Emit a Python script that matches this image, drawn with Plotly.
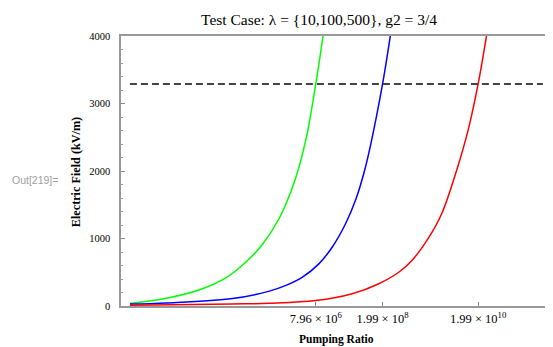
import plotly.graph_objects as go

# ---- data (x: pumping ratio, log axis; y: electric field kV/m)
green_x = [1026, 5970, 29500, 106200, 277300, 605000, 1.368e6, 2.81e6, 4.93e6, 7.96e6, 1.146e7]
green_e = [38, 115, 240, 420, 655, 910, 1300, 1830, 2460, 3290, 4030]

blue_x = [1026, 5970, 143600, 847000, 1.888e6, 4.19e6, 9.33e6, 1.766e7, 3.36e7, 5.42e7, 8.07e7, 1.113e8, 1.99e8, 2.90e8]
blue_e = [28, 45, 110, 220, 305, 428, 628, 874, 1222, 1569, 1966, 2380, 3290, 4008]

red_x = [1026, 143600, 847000, 7.96e6, 4.61e7, 1.658e8, 4.34e8, 8.19e8, 1.825e9, 3.454e9, 7.10e9, 1.244e10, 1.99e10, 2.99e10]
red_e = [12, 30, 40, 80, 181, 330, 500, 675, 1010, 1371, 2015, 2620, 3290, 4008]

threshold_x = [1026, 4.5e11]
threshold_e = [3290, 3290]

x_tickvals = [7.96e6, 1.99e8, 1.99e10]
x_ticktext = ["7.96 × 10<sup>6</sup>", "1.99 × 10<sup>8</sup>", "1.99 × 10<sup>10</sup>"]
y_tickvals = [0, 1000, 2000, 3000, 4000]

title_text = "Test Case: λ = {10,100,500}, g2 = 3/4"

# ---- layout geometry (pixels). The page body adds an 8px offset, so the
# figure is drawn 8px smaller and screen positions are shifted by OFF.
OFF = 8
W, H = 553 - OFF, 347 - OFF
L, R, T, B = 121 - OFF, 0, 36 - OFF, 41
PW, PH = W - L - R, H - T - B


def px(sx):
    return (sx - OFF - L) / PW


def py(sy):
    return (H - B - (sy - OFF)) / PH


serif = "Liberation Serif"

fig = go.Figure()
for xs, es, col in [(green_x, green_e, "#00ff00"), (blue_x, blue_e, "#0000ff"), (red_x, red_e, "#ff0000")]:
    fig.add_trace(go.Scatter(x=xs, y=es, mode="lines",
                             line=dict(color=col, width=1.5, shape="spline", smoothing=1.0),
                             showlegend=False, hoverinfo="skip"))
fig.add_trace(go.Scatter(x=threshold_x, y=threshold_e, mode="lines",
                         line=dict(color="#444444", width=2, dash="7px,4px"),
                         showlegend=False, hoverinfo="skip"))

fig.update_layout(
    width=W, height=H,
    margin=dict(l=L, r=R, t=T, b=B),
    paper_bgcolor="white", plot_bgcolor="white",
    font=dict(family=serif, size=11, color="black"),
    annotations=[
        dict(text=title_text, x=px(320), y=py(19), xref="paper", yref="paper",
             showarrow=False, xanchor="center", yanchor="middle",
             font=dict(family=serif, size=15.5, color="black")),
        dict(text="<b>Pumping Ratio</b>", x=px(338), y=py(339), xref="paper", yref="paper",
             showarrow=False, xanchor="center", yanchor="middle",
             font=dict(family=serif, size=11.5, color="black")),
        dict(text="<b>Electric Field (kV/m)</b>", x=px(76), y=py(172), xref="paper", yref="paper",
             showarrow=False, xanchor="center", yanchor="middle", textangle=-90,
             font=dict(family=serif, size=12.2, color="black")),
        dict(text="Out[219]=", x=px(35), y=py(180), xref="paper", yref="paper",
             showarrow=False, xanchor="center", yanchor="middle",
             font=dict(family="Liberation Sans", size=10.5, color="#a0a0a0")),
    ],
)

fig.update_xaxes(
    type="log", range=[2.824, 11.824],
    tickvals=x_tickvals, ticktext=x_ticktext,
    ticks="inside", ticklen=4, tickcolor="#888888", tickwidth=1,
    showgrid=False, zeroline=False,
    showline=True, linecolor="#999999", linewidth=1.5, mirror=True,
    tickfont=dict(family=serif, size=12.5, color="black"),
    ticklabelstandoff=0,
)
fig.update_yaxes(
    range=[0, 4000], tickvals=y_tickvals,
    ticks="inside", ticklen=4, tickcolor="#888888", tickwidth=1,
    minor=dict(dtick=200, ticks="inside", ticklen=2, tickcolor="#999999", showgrid=False),
    showgrid=False, zeroline=False,
    showline=True, linecolor="#999999", linewidth=1.5, mirror="ticks",
    tickfont=dict(family=serif, size=10.5, color="black"),
    ticklabelstandoff=7,
)

fig.write_html("out.html")
